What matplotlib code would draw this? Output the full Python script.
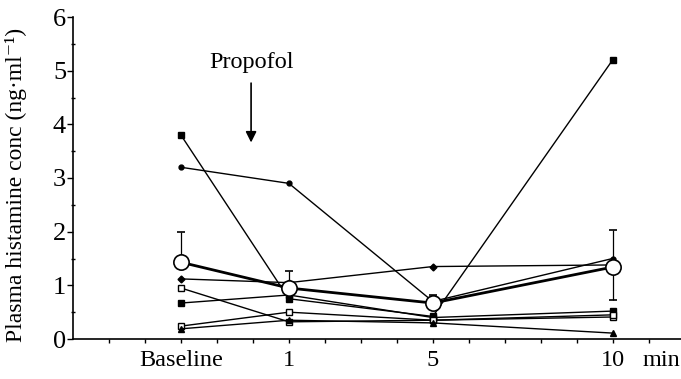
import matplotlib
matplotlib.use("Agg")
import matplotlib.pyplot as plt
from matplotlib.ticker import MultipleLocator

plt.rcParams['font.family'] = ['Liberation Serif', 'DejaVu Serif']

# positions on the axis (ticks are evenly spaced units)
time_labels = ["Baseline", "1", "5", "10"]
time_pos = [3, 6, 10, 15]

# individual subjects (ng/ml)
subj_a = [3.8, 0.75, 0.42, 5.2]     # filled square
subj_b = [3.2, 2.9, 0.70, 1.5]      # small filled circle
subj_c = [1.12, 1.05, 1.35, 1.38]   # small filled diamond
subj_d = [0.95, 0.32, 0.35, 0.41]   # open square
subj_e = [0.67, 0.82, 0.40, 0.52]   # filled square
subj_f = [0.24, 0.50, 0.35, 0.45]   # open square / open circle
subj_g = [0.19, 0.35, 0.30, 0.11]   # filled triangle

mean_vals = [1.43, 0.95, 0.67, 1.34]
err_up = [0.57, 0.32, 0.15, 0.69]
err_dn = [0.0, 0.0, 0.0, 0.61]

fig = plt.figure(figsize=(6.81, 3.79), dpi=100)
ax = fig.add_axes([73/681, 40/379, 608/681, 322/379])

lw = 1.0
ax.plot(time_pos, subj_a, color='black', lw=lw, marker='s', ms=4.5, mfc='black')
ax.plot(time_pos, subj_b, color='black', lw=lw, marker='o', ms=3.5, mfc='black')
ax.plot(time_pos, subj_c, color='black', lw=lw, marker='D', ms=3.5, mfc='black')
ax.plot(time_pos, subj_d, color='black', lw=lw, marker='s', ms=4.5, mfc='white', mew=1.0)
ax.plot(time_pos, subj_e, color='black', lw=lw, marker='s', ms=4.5, mfc='black')
ax.plot(time_pos, subj_f, color='black', lw=lw, marker='s', ms=4.5, mfc='white', mew=1.0)
ax.plot(time_pos, subj_g, color='black', lw=lw, marker='^', ms=4.5, mfc='black')

ax.errorbar(time_pos, mean_vals, yerr=[err_dn, err_up], color='black', lw=2.0,
            elinewidth=0.9, capsize=3, capthick=1.0, marker='o', ms=11,
            mfc='white', mec='black', mew=1.2, zorder=5)

ax.set_xlim(0, 16.9)
ax.set_ylim(0, 6)
ax.spines['top'].set_visible(False)
ax.spines['right'].set_visible(False)
ax.spines['left'].set_linewidth(1.2)
ax.spines['bottom'].set_linewidth(1.2)

ax.set_xticks(range(1, 17), minor=True)
ax.set_xticks(time_pos)
ax.set_xticklabels(time_labels, fontsize=17.5)
ax.tick_params(axis='x', which='both', direction='out', length=3, width=1.0, pad=5)
ax.set_yticks(range(0, 7))
ax.yaxis.set_minor_locator(MultipleLocator(0.5))
ax.tick_params(axis='y', which='major', direction='out', length=4, width=1.0, labelsize=19, pad=1)
ax.tick_params(axis='y', which='minor', direction='inout', length=3, width=1.0)

ax.annotate("min", xy=(16.35, 0), xycoords=('data', 'axes fraction'),
            xytext=(0, -8), textcoords='offset points',
            fontsize=17.5, ha='center', va='top')

ax.set_ylabel("Plasma histamine conc (ng\u00b7ml\u207b\u00b9)", fontsize=17)
ax.yaxis.set_label_coords(-0.075, 0.48)

ax.annotate("", xy=(4.95, 3.61), xytext=(4.95, 4.82),
            arrowprops=dict(arrowstyle='-|>', color='black', lw=1.2,
                            mutation_scale=16))
ax.text(4.95, 5.16, "Propofol", fontsize=17.5, ha='center', va='center')

fig.savefig("out.png", dpi=100)
